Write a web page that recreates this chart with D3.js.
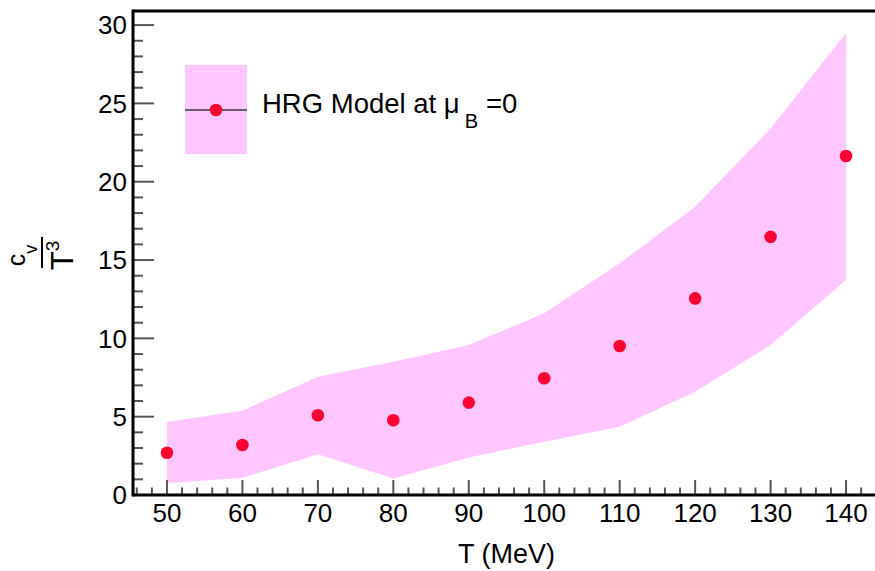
<!DOCTYPE html>
<html>
<head>
    <style>
        body { margin: 0; background: #fff; }
        text { font-family: "Liberation Sans", Arial, Helvetica, sans-serif; fill: #000; }
        .tick-label { font-size: 26px; }
        .legend-text { font-size: 27.5px; }
    </style>
    <script src="https://d3js.org/d3.v7.min.js"></script>
</head>
<body>
    <svg width="875" height="571"></svg>
    <script>
        // values
        let temps = [50, 60, 70, 80, 90, 100, 110, 120, 130, 140];
        let cvT3 = [2.70, 3.19, 5.09, 4.77, 5.90, 7.45, 9.51, 12.55, 16.48, 21.64];
        let bandUpper = [4.68, 5.38, 7.55, 8.5, 9.57, 11.6, 14.8, 18.4, 23.4, 29.5];
        let bandLower = [0.75, 1.1, 2.6, 1.06, 2.4, 3.4, 4.36, 6.59, 9.57, 13.72];
        let xMajor = [50, 60, 70, 80, 90, 100, 110, 120, 130, 140];
        let yMajor = [0, 5, 10, 15, 20, 25, 30];
        let legendLabel = "HRG Model at ";

        let svg = d3.select("svg");
        let pLeft = 133, pRight = 880, pTop = 11, pBottom = 495;

        let x = d3.scaleLinear().domain([45.5, 144.5]).range([pLeft, pRight]);
        let y = d3.scaleLinear().domain([0, 30.9]).range([pBottom, pTop]);

        // error band
        let band = d3.area()
            .x(d => x(d.t))
            .y0(d => y(d.lo))
            .y1(d => y(d.hi));
        let bandData = temps.map((t, i) => ({t: t, lo: bandLower[i], hi: bandUpper[i]}));
        svg.append("path")
            .datum(bandData)
            .attr("d", band)
            .attr("fill", "#ffc6ff");

        // ticks
        let xMinor = d3.range(46, 145, 2).filter(v => v % 10 != 0);
        let yMinor = d3.range(0, 31, 1).filter(v => v % 5 != 0);
        let tickCol = "#555";

        svg.selectAll(".xmaj").data(xMajor).enter().append("line")
            .attr("x1", d => x(d)).attr("x2", d => x(d))
            .attr("y1", pBottom).attr("y2", pBottom - 15)
            .attr("stroke", tickCol).attr("stroke-width", 2);
        svg.selectAll(".xmin").data(xMinor).enter().append("line")
            .attr("x1", d => x(d)).attr("x2", d => x(d))
            .attr("y1", pBottom).attr("y2", pBottom - 7.5)
            .attr("stroke", tickCol).attr("stroke-width", 2);
        svg.selectAll(".ymaj").data(yMajor).enter().append("line")
            .attr("y1", d => y(d)).attr("y2", d => y(d))
            .attr("x1", pLeft).attr("x2", pLeft + 21)
            .attr("stroke", tickCol).attr("stroke-width", 2);
        svg.selectAll(".ymin").data(yMinor).enter().append("line")
            .attr("y1", d => y(d)).attr("y2", d => y(d))
            .attr("x1", pLeft).attr("x2", pLeft + 10)
            .attr("stroke", tickCol).attr("stroke-width", 2);

        // frame
        svg.append("line").attr("x1", pLeft).attr("x2", pRight).attr("y1", pBottom).attr("y2", pBottom)
            .attr("stroke", "#000").attr("stroke-width", 3);
        svg.append("line").attr("x1", pLeft).attr("x2", pRight).attr("y1", pTop).attr("y2", pTop)
            .attr("stroke", "#000").attr("stroke-width", 3);
        svg.append("line").attr("x1", pLeft).attr("x2", pLeft).attr("y1", pTop - 1.5).attr("y2", pBottom + 1.5)
            .attr("stroke", "#000").attr("stroke-width", 3);

        // tick labels
        svg.selectAll(".xl").data(xMajor).enter().append("text")
            .attr("class", "tick-label")
            .attr("x", d => x(d)).attr("y", 522)
            .attr("text-anchor", "middle")
            .text(d => d);
        svg.selectAll(".yl").data(yMajor).enter().append("text")
            .attr("class", "tick-label")
            .attr("x", 127).attr("y", d => y(d) + 9.3)
            .attr("text-anchor", "end")
            .text(d => d);

        // points
        svg.selectAll(".pt").data(temps).enter().append("circle")
            .attr("cx", d => x(d))
            .attr("cy", (d, i) => y(cvT3[i]))
            .attr("r", 6.3)
            .attr("fill", "#ff0033");

        // axis titles
        svg.append("text")
            .attr("x", (pLeft + pRight) / 2).attr("y", 563)
            .attr("text-anchor", "middle")
            .style("font-size", "27px")
            .text("T (MeV)");

        let yt = svg.append("g").attr("transform", "translate(42,252.5) rotate(-90)");
        yt.append("line").attr("x1", -15.5).attr("x2", 15.5).attr("y1", 0).attr("y2", 0)
            .attr("stroke", "#000").attr("stroke-width", 2);
        let num = yt.append("text").attr("x", -3).attr("y", -17.5).attr("text-anchor", "middle")
            .style("font-size", "25px");
        num.append("tspan").text("c");
        num.append("tspan").attr("dy", 12).style("font-size", "18px").text("v");
        let den = yt.append("text").attr("x", -3).attr("y", 31).attr("text-anchor", "middle")
            .style("font-size", "31px");
        den.append("tspan").text("T");
        den.append("tspan").attr("dy", -14).style("font-size", "19px").text("3");

        // legend
        let lg = svg.append("g");
        lg.append("rect").attr("x", 185).attr("y", 65).attr("width", 62).attr("height", 89)
            .attr("fill", "#ffc6ff");
        lg.append("line").attr("x1", 185).attr("x2", 247).attr("y1", 110).attr("y2", 110)
            .attr("stroke", "#6a5a6a").attr("stroke-width", 2);
        lg.append("circle").attr("cx", 216).attr("cy", 110).attr("r", 6.3).attr("fill", "#ff0033");
        let lt = lg.append("text").attr("class", "legend-text").attr("x", 262).attr("y", 113);
        lt.append("tspan").text(legendLabel + "\u03bc");
        lt.append("tspan").attr("dy", 15).attr("dx", 5).style("font-size", "20px").text("B");
        lt.append("tspan").attr("dy", -15).attr("dx", 8).text("=0");
    </script>
</body>
</html>
